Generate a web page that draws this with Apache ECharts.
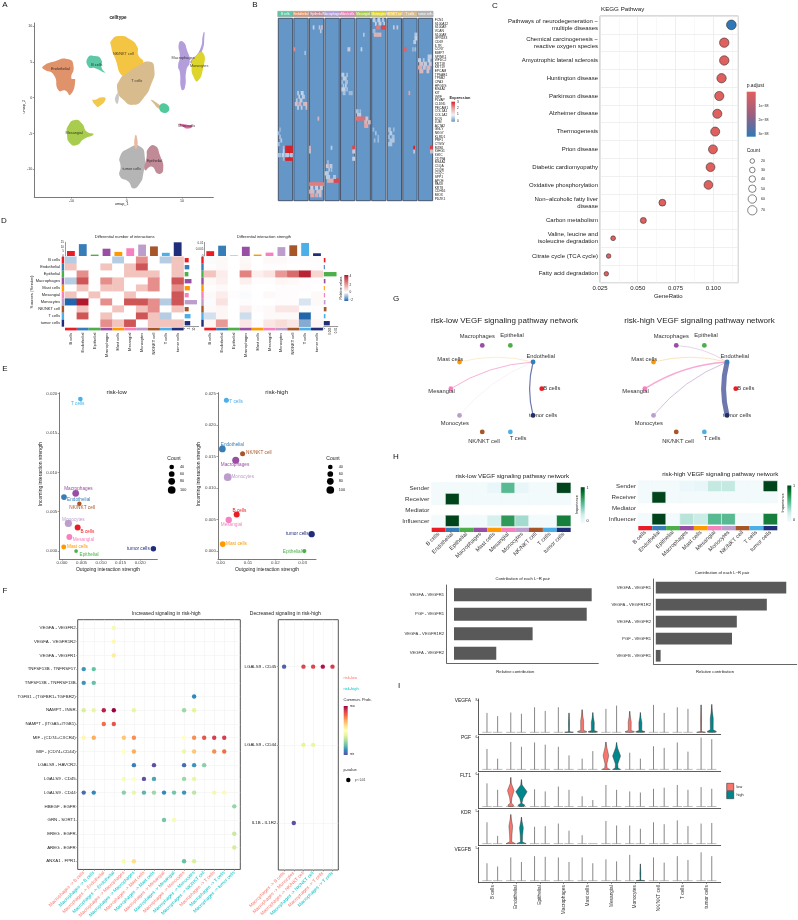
<!DOCTYPE html>
<html><head><meta charset="utf-8">
<style>html,body{margin:0;padding:0;background:#fff}#c{width:798px;height:920px}</style>
<script src="https://cdn.jsdelivr.net/npm/echarts@6/dist/echarts.min.js"></script>
</head><body><div id="c"></div>
<script>
// ---------- shared categories ----------
const cellTypes = ['B cells','Endothelial','Epithelial','Macrophages','Mast cells','Mesangial','Monocytes','NK/NKT cell','T cells','tumor cells'];
const cellColors = ['#EC1C24','#377EB8','#4DAF4A','#984EA3','#FF9900','#F781BF','#BC9DCC','#A65628','#4DAFE8','#1F2D7A'];

// ---------- A: UMAP cluster outlines, in umap units ----------
const umapOutlines = [
  ['#F4C542',[[-2.7,8.05],[-1.2,8.6],[0.6,8.15],[1.9,7.1],[2.1,5.95],[3,4.8],[1.2,2.9],[-0.6,2.9],[-2.1,5.5],[-2.8,7.1]]],
  ['#D9BC8E',[[-0.3,3.2],[1.8,4.3],[4.2,5],[5,3.9],[4.5,2],[3,-0.1],[1.2,-1],[-0.6,-0.3],[-1.7,1.1],[-1.1,2.7]]],
  ['#E0926A',[[-15.2,4.3],[-13.3,5],[-10.5,5.35],[-9.6,4.3],[-10,2.7],[-9.3,2.5],[-10.2,0.4],[-11.1,1],[-12.3,1],[-13.2,3.2],[-15,3.95]]],
  ['#5CC8A5',[[-7,5.6],[-5.7,5.8],[-4.6,5.3],[-4.5,4.1],[-3.9,3.5],[-5.7,4.1],[-6.9,4.3]]],
  ['#F2C94C',[[-5.7,-0.3],[-4.5,0.05],[-3.8,-0.2],[-5.1,-1.25],[-5.7,-1],[-6.2,-0.3]]],
  ['#A8CC4E',[[-10.5,-3.8],[-9.3,-3.1],[-8.1,-3.6],[-7.2,-4.75],[-6,-5.1],[-7.8,-5.8],[-9,-6.6],[-10.2,-6.4],[-10.8,-5]]],
  ['#B39DDB',[[9.45,7.6],[10.2,7.8],[10.9,6.65],[11.4,5],[10.8,3.85],[10.5,1.3],[9.9,1.15],[9.6,3.6],[9.3,4.3],[9.6,5.7]]],
  ['#B39DDB',[[11.5,5],[13.2,6.6],[13.9,9.1],[14.1,9],[13.5,6.2],[12,4.8]]],
  ['#DDD52B',[[12.35,5.7],[13.85,6.2],[13.75,3.85],[12.8,2.3],[12.2,2.7],[11.75,4.3]]],
  ['#D9BC8E',[[4.4,-0.3],[5.2,-0.6],[6.2,-1.3],[5.8,-1.5],[4.9,-0.8]]],
  ['#52C99B',[[5.9,-1.25],[6.9,-0.8],[7.7,-1.7],[6.6,-2.1]]],
  ['#E060A0',[[9.3,-3.65],[11.1,-3.8],[11.9,-3.95],[11.1,-4.3],[9.9,-3.9]]],
  ['#B5B5B5',[[-1.2,-8.2],[0.3,-7.1],[2.4,-6.8],[3.3,-8.45],[3,-10.6],[2.4,-11.95],[1.2,-12.65],[0.3,-11.7],[-1.2,-11],[-1.1,-9.6]]],
  ['#C08A96',[[3.9,-7.1],[5.1,-6.7],[6,-8],[6.6,-10.1],[5.7,-10.6],[4.5,-9.6],[3.3,-10.1],[3.6,-8.3]]],
  ['#E8B9A0',[[1.5,-5.3],[1.8,-5.3],[1.9,-7],[1.5,-7]]],
  ['#C9C9C9',[[-2,0.2],[-1.5,0.6],[-1.6,-0.8],[-2,-0.6]]]
];
const umapLabels = [['Endothelial',-12,3.95],['B cells',-5.4,4.55],['NK/NKT cell',-0.6,6.05],['T cells',1.8,2.3],['Macrophages',10.2,5.5],['Monocytes',13.1,4.45],['Mesangial',-9.5,-4.85],['Mast cells',10.85,-3.95],['Epithelial',5.05,-8.8],['tumor cells',0.9,-9.95]];

// ---------- B: marker gene heatmap ----------
const markerGenes = ['FCN1','S100A12','S100A9','VCAN','S100A8','GPR183','CD69','IL7R','CCR7','MMP7','SPINK1','WFDC2','KRT18','KRT19','EPCAM','TPSAB1','TPSB2','CPA3','HPGDS','MS4A2','KIT','VWF','PLVAP','CLDN5','PECAM1','COL1A1','COL1A2','DCN','LUM','ACTA2','GNLY','NKG7','KLRD1','PRF1','CTSW','MZB1','IGHG1','IGKC','CD79A','MS4A1','C1QA','C1QB','C1QC','SPP1','APOE','PAX8','KRT8','CDH16','MIOX','PDZK1'];
const headerColors = ['#5CC8A5','#E0926A','#C08A96','#B39DDB','#E884B8','#A8CC4E','#DDD52B','#F2C94C','#D9BC8E','#B5B5B5'];
const headerNames = ['B cells','Endothelial','Epithelial','Macrophages','Mast cells','Mesangial','Monocytes','NK/NKT cell','T cells','tumor cells'];
// expression spans per cluster: first column, last column, gene row, value
const exprSpans = [
  [[6,11,35,3],[6,11,36,3],[6,11,38,3],[0,1,37,0.7],[3,4,37,1],[6,8,37,0.9],[10,11,37,0.8],[1,1,32,0.7],[2,2,33,0.9],[0,0,31,0.5],[1,1,30,0.5],[4,4,35,1.9],[4,4,38,2],[4,4,36,1.1],[0,0,34,0.6]],
  [[3,3,20,0.9],[6,7,20,1],[4,4,21,1.2],[7,8,21,0.9],[2,2,22,0.8],[5,6,22,0.9],[1,2,23,1.4],[4,5,23,1.7],[8,10,23,1.5],[3,3,24,1],[6,6,24,1.2],[10,10,24,1.4],[0,0,8,2.2],[9,9,9,0.7]],
  [[0,11,45,2.3],[1,2,46,1.1],[5,6,46,1],[9,10,46,1.2],[0,3,47,1.5],[6,9,47,1.4],[1,3,48,2],[5,6,48,1.9],[8,9,48,1.5],[7,7,27,1.6],[3,3,2,1],[8,8,2,1.4],[10,10,2,1.6],[9,9,3,0.8],[0,0,35,1.6],[0,0,36,1.2]],
  [[7,11,44,2.7],[2,6,44,1.8],[1,3,43,0.9],[7,8,43,0.8],[1,2,40,1.3],[4,5,40,1.2],[3,3,41,0.8],[5,5,41,0.7],[0,2,42,0.9],[2,2,39,0.6],[5,5,35,0.9]],
  [[1,2,15,0.9],[5,5,15,0.7],[2,4,16,0.9],[1,1,17,0.6],[4,5,17,0.7],[2,2,18,0.8],[4,4,18,0.9],[1,3,19,1],[5,5,19,0.7],[2,3,20,0.7],[7,9,20,0.6],[10,11,35,2.7],[10,11,36,1.2],[10,11,38,1.1],[6,7,8,1.2]],
  [[0,1,25,0.7],[3,3,25,0.6],[1,3,26,0.9],[0,6,27,2.4],[7,8,28,1.7],[10,11,28,1.5],[7,9,29,2],[8,9,27,1.4],[4,4,8,1],[6,6,4,0.8]],
  [[1,2,0,0.9],[5,6,0,1],[9,9,0,0.9],[3,3,1,1],[6,7,1,1.1],[10,10,1,0.9],[4,6,2,2.3],[8,11,2,2.7],[2,7,4,1.7],[1,2,3,0.6],[1,1,30,0.6],[3,3,31,0.7],[5,5,32,0.5],[2,2,33,0.6],[5,5,33,0.6]],
  [[1,2,30,0.7],[5,5,30,0.6],[2,3,31,0.9],[1,1,32,0.7],[4,5,32,0.7],[2,5,33,0.8],[1,3,34,0.8],[5,5,2,1.2],[8,8,2,1.3]],
  [[1,2,8,2.5],[10,11,4,0.8],[10,11,5,1],[9,10,6,0.9],[5,5,20,2],[9,9,35,3],[9,9,36,1.2],[8,8,8,0.6],[10,10,8,0.7]],
  [[0,1,11,1],[4,4,11,0.8],[8,9,11,1],[1,3,12,1.4],[5,6,12,1.1],[9,10,12,1.3],[0,2,13,1.8],[4,5,13,1.3],[7,9,13,1.6],[1,3,14,1.6],[7,8,14,1.4],[8,10,10,0.9],[10,11,35,2.8],[10,11,36,1.4]]
];

// ---------- C: KEGG enrichment ----------
const keggTerms = ['Pathways of neurodegeneration −\nmultiple diseases','Chemical carcinogenesis −\nreactive oxygen species','Amyotrophic lateral sclerosis','Huntington disease','Parkinson disease','Alzheimer disease','Thermogenesis','Prion disease','Diabetic cardiomyopathy','Oxidative phosphorylation','Non−alcoholic fatty liver\ndisease','Carbon metabolism','Valine, leucine and\nisoleucine degradation','Citrate cycle (TCA cycle)','Fatty acid degradation'];
const keggRatio = [0.112,0.1073,0.1073,0.1055,0.104,0.1027,0.1013,0.0998,0.0982,0.0968,0.0663,0.0537,0.0337,0.0307,0.0292];
const keggCount = [74,71,71,70,69,68,67,66,65,64,44,35,22,20,19];
const keggPadj = [3e-38,1e-38,1e-38,1e-38,1e-38,1e-38,1e-38,1e-38,1e-38,1e-38,1e-38,1e-38,1e-38,1e-38,1e-38];

// ---------- D: differential interaction heatmaps ----------
const diffCount = [
  [-1,0,0,0,-1,0,2,0,-1,1],[1,0,0,1,0,1,3,0,0,1],[0,2,0,0,0,1,1,1,0,1],[-1,3,0,2,1,0,0,2,0,3],[0,1,0,1,1,0,1,2,0,2],
  [1,0,1,0,0,1,0,0,0,3],[-3,4,0,2,0,3,3,2,-1,3],[0,1,0,0,1,0,1,2,0,1],[0,3,0,1,0,0,3,1,-1,0],[0,0,0,2,1,3,0,1,1,1]];
const diffStrength = [
  [-0.05,0.1,0,0.1,0,0.1,0.1,0.05,0.05,0.05],[0.05,0.1,0,0.15,0,0.05,0.05,0,0,0.05],[1,0.3,0,2.2,0.25,0.45,1.8,2.6,3.8,0.7],[0.1,0.25,0,0.25,0.05,0.05,0.15,0.1,0.05,0.05],[0.05,0.1,0,0.05,0,0,0.05,0.05,0.05,0],
  [0.1,0.3,0.05,-0.05,0,0.1,0.05,0.05,0,0.1],[-0.05,0.5,0,0.05,0,0,0.05,0.05,-0.35,0.1],[0.1,0.15,0,0.3,0.05,0.1,0.4,0.4,0.05,0.05],[-0.4,0.15,0,-0.45,0,0.1,0.1,0.1,-2,0.05],[0.15,1.8,0,0.4,0.05,0.4,0.6,0.4,-1.1,0.15]];
const countTop = [5.5,13,1.5,8,4.5,8.5,12.5,10.5,3.5,15];
const countSide = [4,4.6,3.7,6.8,5.2,4,12.3,4,5.8,5.5];
const strengthTop = [0.0037,0.0079,0.0003,0.0071,0.0011,0.0026,0.0068,0.0082,0.01,0.0021];
const strengthSide = [0.0013,0.0008,0.01,0.0013,0.0008,0.001,0.0013,0.0021,0.0013,0.0047];

// ---------- E: outgoing / incoming strength ----------
const lowOutgoing = [0.004,0.0005,0.0036,0.0035,0.00043,0.00188,0.00162,0.00444,0.0047,0.0234];
const lowIncoming = [0.003,0.00686,0,0.00733,0.00051,0.00178,0.00352,0.00602,0.0193,0.0003];
const lowCount = [65,60,20,80,45,65,90,35,40,55];
const highOutgoing = [0.00585,0.0006,0.0306,0.0055,0.00073,0.00293,0.00256,0.008,0.00207,0.0333];
const highIncoming = [0.00578,0.01618,0,0.01439,0.0011,0.00494,0.01171,0.01544,0.0239,0.00268];
const highCount = [66,80,32,86,60,72,100,46,46,72];
const lowNudge = [[9.7,4.3],[14.7,2.3],[13,4],[2.7,-4.3],[13.7,0],[14,2.3],[5,-4],[2.7,4.3],[-2.7,4.7],[-15,0.3]];
const highNudge = [[2.7,-4],[10,-4.3],[-12,1],[-0.7,4.7],[13.7,0],[2.7,4.7],[15,0],[16.3,-1],[9.7,1.3],[-14.3,0]];

// ---------- F: ligand-receptor bubble plot ----------
const incPairs = ['VEGFA - VEGFR2','VEGFA - VEGFR1R2','VEGFA - VEGFR1','TNFSF13B - TNFRSF17','TNFSF13B - TNFRSF13B','TGFB1 - (TGFBR1+TGFBR2)','NAMPT - INSR','NAMPT - (ITGA5+ITGB1)','MIF - (CD74+CXCR4)','MIF - (CD74+CD44)','LGALS9 - HAVCR2','LGALS9 - CD45','LGALS9 - CD44','HBEGF - EGFR','GRN - SORT1','EREG - EGFR','AREG - EGFR','ANXA1 - FPR1'];
const incTargets = ['B cells','B cells','Endothelial','Endothelial','Macrophages','Macrophages','Mast cells','Mast cells','Mesangial','Mesangial','Monocytes','Monocytes','NK/NKT cell','T cells','T cells','tumor cells'];
const incGroup = [0,1,0,1,0,1,0,1,0,1,0,1,1,0,1,1];
// column, row, communication probability on a 0-1 scale
const incProb = [[3,0,0.46],[3,1,0.52],[3,2,0.56],[0,3,0.12],[1,3,0.2],[0,4,0.12],[1,4,0.2],[11,5,0.1],
  [0,6,0.38],[1,6,0.42],[2,6,0.95],[3,6,1],[5,6,0.42],[10,6,0.28],[11,6,0.4],[2,7,0.8],[3,7,0.85],
  [0,8,0.53],[1,8,0.7],[4,8,0.65],[5,8,0.75],[10,8,0.5],[11,8,0.75],[12,8,0.85],[13,8,0.9],[14,8,0.9],
  [4,9,0.5],[5,9,0.7],[10,9,0.43],[11,9,0.65],[13,9,0.75],[14,9,0.8],
  [5,10,0.08],[7,10,0],[10,10,0.05],[11,10,0.12],[12,10,0.25],
  [4,11,0.47],[5,11,0.5],[6,11,0],[7,11,0.15],[10,11,0.28],[11,11,0.42],
  [0,12,0.05],[1,12,0.1],[4,12,0.25],[5,12,0.42],[6,12,0.18],[7,12,0.28],[8,12,0.1],[9,12,0.22],[10,12,0.12],[11,12,0.33],[13,12,0.45],[14,12,0.52],
  [15,13,0.27],[8,14,0.22],[9,14,0.47],[15,15,0.35],[15,16,0.37],[4,17,0.47],[5,17,0.6],[10,17,0.2],[11,17,0.38]];
const decPairs = ['LGALS9 - CD45','LGALS9 - CD44','IL1B - IL1R2'];
const decTargets = ['B cells','Monocytes','NK/NKT cell','NK/NKT cell','T cells','T cells'];
const decGroup = [0,0,0,1,0,1];
const decProb = [[0,0,0.03],[2,0,0.88],[3,0,0.88],[4,0,0.97],[5,0,0.9],[2,1,0.4],[3,1,0.42],[1,2,0]];

// ---------- G: VEGF networks, edge widths per sender towards Endothelial ----------
const lowEdges = [['Mast cells',0.5],['Mesangial',0.9],['Monocytes',0.4],['tumor cells',1.2]];
const highEdges = [['Macrophages',0.5],['Mast cells',0.7],['Mesangial',1.6],['Monocytes',1],['tumor cells',5]];

// ---------- H: signaling roles and L-R contributions ----------
const roles = ['Sender','Receiver','Mediator','Influencer'];
const lowRoles = [[0,0,0,0,0.08,0.55,0.1,0,0,1],[0,1,0,0,0,0,0,0,0,0],null,[0,1,0,0,0.2,0.7,0.35,0,0,0.8]];
const highRoles = [[0,0,0,0.07,0.1,0.27,0.27,0,0,1],[0,1,0,0,0,0,0,0,0,0],null,[0,1,0,0.3,0.25,0.55,0.55,0,0,0.8]];
const lowPairs = ['VEGFA - VEGFR1','PGF - VEGFR1','VEGFA - VEGFR1R2','VEGFA - VEGFR2'];
const lowContribution = [1,0.964,0.571,0.307];
const highPairs = ['VEGFA - VEGFR1','VEGFA - VEGFR1R2','VEGFA - VEGFR2','PGF - VEGFR1','VEGFB - VEGFR1'];
const highContribution = [1,0.851,0.621,0.584,0.037];

// ---------- I: violin plots, maximum expression per cell type ----------
const violinGenes = ['VEGFA','PGF','FLT1','KDR','VEGFB'];
const violinTicks = [8,6,6,5,5];
const violinLow = [
  [4.8,4.9,6.2,6.2,5.6,5.8,5.2,6.8,6.2,6.8],[3.8,5.1,5,4.2,2,5.1,3.1,4.3,5,5.9],[4.3,5.4,3.2,3.7,1.9,4,2.8,3.3,4,3.6],
  [3.3,4.5,2.6,3.1,1.3,3.5,2.8,3.3,3.6,3.1],[2.7,3.6,3.8,3.6,3.6,3.3,4,3.6,3.8,4.4]];
const violinHigh = [
  [4,4.6,5.3,4.8,4.9,6.6,4.9,4.8,5.8,6.9],[2,4.2,4.6,2.6,3.4,5,2,4,3.3,5.6],[3.1,5,2.8,3.1,1.2,3.1,2.6,3.5,3.1,3.3],
  [1.2,4.1,2.7,2,0,2.8,2.3,3,2.7,3.2],[2.2,2.9,3.7,2.9,2.7,3,2.6,2.8,3.2,3.8]];
// violin outlines as [fraction of height, half width]; keyed gene:cell:group
const violinProfiles = {
  'foot':[[0,0.6],[0.03,1],[0.09,0.3],[0.5,0.32],[0.75,0.12],[1,0]],
  'pgf':[[0,0.8],[0.05,0.25],[0.2,0.2],[0.5,0.6],[0.8,0.2],[1,0]],
  'pgf2':[[0,0.8],[0.05,0.3],[0.2,0.25],[0.5,0.85],[0.8,0.2],[1,0]],
  'flt':[[0,0.5],[0.05,0.6],[0.12,0.1],[0.3,0.25],[0.55,0.7],[0.8,0.1],[1,0]],
  'flt2':[[0,0.5],[0.05,0.75],[0.12,0.1],[0.3,0.35],[0.55,1.2],[0.8,0.15],[1,0]],
  'kdr':[[0,1],[0.06,0.2],[0.3,0.25],[0.6,0.4],[0.85,0.12],[1,0]],
  'thin':[[0,0.9],[0.03,0.06],[0.45,0.1],[1,0]]
};
const violinShapeAt = {'0:3:1':'thin','0:4:0':'foot','0:4:1':'foot','0:6:0':'foot','0:6:1':'foot','0:9:0':'thin','0:9:1':'foot',
  '1:5:0':'pgf','1:5:1':'pgf2','2:1:0':'flt','2:1:1':'flt2','3:1:0':'kdr','3:1:1':'kdr','4:6:1':'thin'};

// ---------- helpers ----------
const FONT = '"Liberation Sans", Arial, sans-serif';
const grids = [], xAxes = [], yAxes = [], series = [], gfx = [];
const R = Math.PI / 2;
function addGrid(l, t, w, h, x, y, extra) {
  const i = grids.length;
  grids.push(Object.assign({left: l, top: t, width: w, height: h, containLabel: false}, extra || {}));
  xAxes.push(Object.assign({gridIndex: i}, x));
  yAxes.push(Object.assign({gridIndex: i}, y));
  return i;
}
const on = i => ({xAxisIndex: i, yAxisIndex: i});
const hiddenV = (min, max, extra) => Object.assign({type: 'value', min, max, show: false}, extra || {});
const hiddenC = (data, extra) => Object.assign({type: 'category', data, show: false}, extra || {});
function text(x, y, s, size, o) {
  o = o || {};
  gfx.push({type: 'text', x, y, rotation: o.rot || 0, silent: true, z: 10, style: {text: s, fontSize: size, fontFamily: FONT,
    fontWeight: o.bold ? 'bold' : 'normal', fill: o.fill || '#222', align: o.align || 'center', verticalAlign: o.va || 'middle'}});
}
function rect(x, y, w, h, fill, stroke) {
  gfx.push({type: 'rect', silent: true, z: 9, shape: {x, y, width: w, height: h}, style: {fill, stroke: stroke || null, lineWidth: stroke ? 0.6 : 0}});
}
function dot(x, y, d, fill, stroke) {
  gfx.push({type: 'circle', silent: true, z: 9, shape: {cx: x, cy: y, r: d / 2}, style: {fill, stroke: stroke || null, lineWidth: stroke ? 0.6 : 0}});
}
function colorbar(x, y, w, h, stops) {
  const n = stops.length - 1;
  gfx.push({type: 'rect', silent: true, z: 9, shape: {x, y, width: w, height: h}, style: {
    fill: new echarts.graphic.LinearGradient(0, 0, 0, 1, stops.map((c, i) => ({offset: i / n, color: c})))}});
}
function rgb(h) { return [1, 3, 5].map(i => parseInt(h.substr(i, 2), 16)); }
function ramp(stops, t) {
  t = Math.max(0, Math.min(1, t)) * (stops.length - 1);
  const i = Math.min(Math.floor(t), stops.length - 2), f = t - i, a = rgb(stops[i]), b = rgb(stops[i + 1]);
  return 'rgb(' + a.map((v, k) => Math.round(v + (b[k] - v) * f)).join(',') + ')';
}
function heat(i, cells, colorOf, extra) {
  series.push(Object.assign({type: 'heatmap', ...on(i), progressive: 0, emphasis: {disabled: true},
    data: cells.map(d => ({value: d, itemStyle: {color: colorOf(d[2])}}))}, extra || {}));
}
function strip(l, t, w, h, vertical) {
  const i = vertical
    ? addGrid(l, t, w, h, hiddenV(0, 1), hiddenC(cellTypes, {inverse: true}))
    : addGrid(l, t, w, h, hiddenC(cellTypes), hiddenV(0, 1));
  series.push({type: 'bar', ...on(i), barWidth: '100%', silent: true, data: cellTypes.map((_, k) => ({value: 1, itemStyle: {color: cellColors[k]}}))});
}
const axisGray = {lineStyle: {color: '#7A7A7A', width: 1}, onZero: false};
const tickGray = (vals, len) => ({length: len || 1.6, lineStyle: {color: '#666', width: 0.6}, customValues: vals});

// ---------- panel letters ----------
[['A',5,5],['B',255,5],['C',495,6],['D',4,221],['E',5,369],['F',5,591],['G',396,299],['H',396,457],['I',399,686]].forEach(p => text(p[1], p[2], p[0], 8, {fill: '#111'}));

// ---------- A ----------
{
  const i = addGrid(34.3, 23, 179, 174,
    {type: 'value', min: -16.7, max: 15.66, splitLine: {show: false}, axisLine: axisGray, axisTick: tickGray([-10, 0, 10]),
      axisLabel: {customValues: [-10, 0, 10], fontSize: 3.6, margin: 2, color: '#333'}},
    {type: 'value', min: -13.85, max: 10.41, splitLine: {show: false}, axisLine: axisGray, axisTick: tickGray([-10, -5, 0, 5, 10]),
      axisLabel: {customValues: [-10, -5, 0, 5, 10], fontSize: 3.6, margin: 2, color: '#333'}});
  umapOutlines.forEach(u => series.push({type: 'custom', ...on(i), silent: true, data: [[u[1][0][0], u[1][0][1]]],
    renderItem: (p, api) => ({type: 'polygon', shape: {points: u[1].map(q => api.coord(q)), smooth: 0.6}, style: {fill: u[0]}})}));
  series.push({type: 'scatter', ...on(i), symbolSize: 0, silent: true, z: 5, data: umapLabels.map(l => ({value: [l[1], l[2]], name: l[0]})),
    label: {show: true, position: 'inside', formatter: '{b}', fontSize: 3.8, color: '#111'}});
  text(118, 18, 'celltype', 4.6, {bold: true});
  text(121.7, 204, 'umap_1', 3.8);
  text(24.3, 106.7, 'umap_2', 3.8, {rot: R});
}

// ---------- B ----------
{
  const blue = '#6496C8', exprStops = [blue, '#C2D3E7', '#E6A3A1', '#D6232A'];
  exprSpans.forEach((spans, p) => {
    const last = p === 9;
    const left = 278.3 + p * 15.56;
    const cells = [];
    spans.forEach(s => { for (let c = s[0]; c <= s[1]; c++) cells.push([c, s[2], s[3]]); });
    const i = addGrid(left, 18.3, 14.3, 182.4,
      hiddenC(Array.from({length: 12}, (_, k) => k)),
      last ? {type: 'category', data: markerGenes, inverse: true, position: 'right', axisLine: {show: false}, axisTick: {show: false},
              axisLabel: {interval: 0, fontSize: 3.3, margin: 2, color: '#222'}}
           : hiddenC(markerGenes, {inverse: true}),
      {show: true, backgroundColor: blue, borderColor: '#47556B', borderWidth: 1});
    heat(i, cells, v => ramp(exprStops, v / 3));
    rect(left - 0.5, 11.3, 15.2, 5.4, headerColors[p], '#999');
    text(left + 7.1, 14, headerNames[p], 3, {fill: '#fff'});
  });
  text(460, 98.3, 'Expression', 3.9, {bold: true});
  colorbar(451.3, 101.7, 3.7, 20, ['#D6232A', '#E6A3A1', '#F2F2F6', blue]);
  [['3', 102.3], ['2', 108.3], ['1', 114.3], ['0', 120.7]].forEach(t => text(457, t[1], t[0], 3.2, {align: 'left'}));
}

// ---------- C ----------
{
  const i = addGrid(600, 16, 138.3, 266.7,
    {type: 'value', min: 0.025, max: 0.1166, interval: 0.025, splitLine: {lineStyle: {color: '#E6E6E6', width: 0.7}},
      minorTick: {show: false, splitNumber: 2}, minorSplitLine: {show: true, lineStyle: {color: '#F1F1F1', width: 0.5}},
      axisLine: {show: false}, axisTick: {length: 1.6, lineStyle: {color: '#333', width: 0.6}},
      axisLabel: {fontSize: 6, margin: 2.5, color: '#222', showMaxLabel: false, formatter: v => v.toFixed(3)}},
    {type: 'category', data: keggTerms, inverse: true, axisLine: {show: false}, splitLine: {show: true, lineStyle: {color: '#E9E9E9', width: 0.7}},
      axisTick: {alignWithLabel: true, length: 1.6, lineStyle: {color: '#333', width: 0.6}},
      axisLabel: {interval: 0, fontSize: 6, margin: 2, color: '#222', lineHeight: 7, align: 'right'}},
    {show: true, borderColor: '#B5B5B5', borderWidth: 1});
  series.push({type: 'scatter', ...on(i), silent: true,
    data: keggTerms.map((t, k) => [keggRatio[k], t, keggCount[k], keggPadj[k]]),
    symbolSize: d => 4.6 + (d[2] - 20) * 0.094,
    itemStyle: {borderColor: '#333', borderWidth: 0.6, opacity: 1, color: p => ramp(['#E0605E', '#2E78B7'], (p.value[3] - 1e-38) / 2e-38)}});
  text(622.7, 9, 'KEGG Pathway', 6.2, {});
  text(668.3, 296.7, 'GeneRatio', 6);
  text(746.7, 86, 'p.adjust', 5, {align: 'left'});
  colorbar(746.7, 91.7, 9, 45, ['#E0605E', '#9C5F80', '#2E78B7']);
  [['1e−38', 105.7], ['2e−38', 120], ['3e−38', 134.3]].forEach(t => text(758.5, t[1], t[0], 3.6, {align: 'left'}));
  text(746.7, 151, 'Count', 5, {align: 'left'});
  [[20, 161, 4.6], [30, 170, 5.6], [40, 179, 6.5], [50, 188.7, 7.4], [60, 199, 8.4], [70, 210.3, 9.3]].forEach(c => {
    dot(752.3, c[1], c[2], '#fff', '#333');
    text(761, c[1], String(c[0]), 3.6, {align: 'left'});
  });
}

// ---------- D ----------
function diffPanel(left, stripLeft, sideLeft, matrix, top, side, topMax, sideMax, negScale, topTicks, sideTicks, rowLabels) {
  const blueStops = ['#FFFFFF', '#2166AC'], redStops = ['#FFFFFF', '#F3C4BE', '#E58E8B', '#CF5657', '#B2182B'];
  const colorOf = v => v < 0 ? ramp(blueStops, -v / negScale) : ramp(redStops, v / 4);
  const cells = [];
  matrix.forEach((row, r) => row.forEach((v, c) => cells.push([c, r, v])));
  const i = addGrid(left, 256.7, 118.6, 70,
    {type: 'category', data: cellTypes, axisLine: {show: false}, axisTick: {show: false},
      axisLabel: {interval: 0, rotate: 90, fontSize: 4, margin: 6, color: '#222'}},
    rowLabels
      ? {type: 'category', data: cellTypes, inverse: true, axisLine: {show: false}, axisTick: {show: false},
         axisLabel: {interval: 0, fontSize: 4, margin: 5, color: '#222'}}
      : hiddenC(cellTypes, {inverse: true}));
  heat(i, cells, colorOf);
  strip(left, 327.7, 118.6, 2.7, false);
  strip(stripLeft, 256.7, 2.4, 70, true);
  const t = addGrid(left, 242.3, 118.6, 13.7, hiddenC(cellTypes),
    {type: 'value', min: 0, max: topMax, splitLine: {show: false}, axisLine: {show: true, lineStyle: {color: '#333', width: 0.5}},
      axisTick: tickGray(topTicks, 1), axisLabel: {customValues: topTicks, fontSize: 3, margin: 1, color: '#333'}});
  series.push({type: 'bar', ...on(t), silent: true, barWidth: '66%', data: top.map((v, k) => ({value: v, itemStyle: {color: cellColors[k]}}))});
  const s = addGrid(sideLeft, 256.7, 14, 70,
    {type: 'value', min: 0, max: sideMax, splitLine: {show: false}, axisLine: {show: true, lineStyle: {color: '#333', width: 0.5}},
      axisTick: tickGray(sideTicks, 1), axisLabel: {customValues: sideTicks, rotate: 90, fontSize: 2.8, margin: 1, color: '#333'}},
    hiddenC(cellTypes, {inverse: true}));
  series.push({type: 'bar', ...on(s), silent: true, barWidth: '62%', data: side.map((v, k) => ({value: v, itemStyle: {color: cellColors[k]}}))});
}
diffPanel(65, 61.7, 184.7, diffCount, countTop, countSide, 15, 14, 3, [0, 5, 10, 15], [0, 5, 10], true);
diffPanel(204.3, 201.3, 323.8, diffStrength, strengthTop, strengthSide, 0.0105, 0.011, 2, [0, 0.005, 0.01], [0, 0.005, 0.01], false);
text(124.7, 237.3, 'Differential number of interactions', 4);
text(264, 237.3, 'Differential interaction strength', 4);
text(32, 292, 'Sources (Sender)', 4.2, {rot: R});
colorbar(344.3, 275, 4, 26, ['#B2182B', '#E58E8B', '#FFFFFF', '#2166AC']);
[['4', 276], ['2', 285], ['0', 292.5], ['−2', 300]].forEach(t => text(349.5, t[1], t[0], 3.2, {align: 'left'}));
text(341.5, 288, 'Relative values', 3.4, {rot: R});

// ---------- E ----------
function rolePanel(l, w, xMin, xMax, yMin, yMax, xTicks, yTicks, xDigits, out, inc, cnt, nudge) {
  const i = addGrid(l, 392.7, w, 166.3,
    {type: 'value', min: xMin, max: xMax, splitLine: {show: false}, axisLine: axisGray, axisTick: tickGray(xTicks),
      axisLabel: {customValues: xTicks, fontSize: 4.4, margin: 2, color: '#444', formatter: v => v.toFixed(xDigits)}},
    {type: 'value', min: yMin, max: yMax, splitLine: {show: false}, axisLine: axisGray, axisTick: tickGray(yTicks),
      axisLabel: {customValues: yTicks, fontSize: 4.4, margin: 2, color: '#444', formatter: v => v.toFixed(3)}});
  series.push({type: 'scatter', ...on(i), silent: true,
    data: cellTypes.map((n, k) => ({value: [out[k], inc[k], cnt[k]], name: n, itemStyle: {color: cellColors[k], opacity: 1},
      label: {show: true, position: 'inside', offset: nudge[k], formatter: '{b}', fontSize: 4.7, color: cellColors[k]}})),
    symbolSize: d => 4.7 + (d[2] - 40) * 0.05});
}
rolePanel(59.3, 98, -0.0007, 0.0244, -0.001, 0.0201, [0, 0.005, 0.01, 0.015, 0.02], [0, 0.005, 0.01, 0.015, 0.02], 3, lowOutgoing, lowIncoming, lowCount, lowNudge);
rolePanel(218, 98, -0.001, 0.0349, -0.00126, 0.0251, [0, 0.01, 0.02, 0.03], [0, 0.005, 0.01, 0.015, 0.02, 0.025], 2, highOutgoing, highIncoming, highCount, highNudge);
text(116.7, 392.5, 'risk-low', 6);
text(276.7, 392.5, 'risk-high', 6);
[[108, 40.3], [267, 199]].forEach(p => {
  text(p[0], 570, 'Outgoing interaction strength', 5);
  text(p[1], 474, 'Incoming interaction strength', 5, {rot: R});
});
[[174, 171.7, 180], [333, 330.3, 338.7]].forEach(p => {
  text(p[0], 458.7, 'Count', 5);
  [[40, 467, 4.7], [60, 474, 5.7], [80, 481.3, 6.7], [100, 490, 7.7]].forEach(c => {
    dot(p[1], c[1], c[2], '#000');
    text(p[2], c[1], String(c[0]), 3.8, {align: 'left'});
  });
});

// ---------- F ----------
const spectral = ['#5E4FA2','#3288BD','#66C2A5','#ABDDA4','#E6F598','#FFFFBF','#FEE08B','#FDAE61','#F46D43','#D53E4F','#9E0142'];
function bubblePanel(l, w, targets, group, pairs, probs) {
  const xv = targets.map((_, k) => k), yv = pairs.map((_, k) => k);
  const i = addGrid(l, 619.7, w, 250.3,
    {type: 'value', min: -0.6, max: targets.length - 0.4, splitLine: {lineStyle: {color: '#EEEEEE', width: 0.5}}, axisLine: {show: false, onZero: false}, axisTick: tickGray(xv, 1.4),
      axisLabel: {customValues: xv, rotate: 45, fontSize: 4.6, margin: 2.5, formatter: v => 'Macrophages -> ' + targets[v],
        color: v => group[+v] ? '#00BFC4' : '#F8766D'}},
    {type: 'value', inverse: true, min: -0.6, max: pairs.length - 0.4, splitLine: {lineStyle: {color: '#EEEEEE', width: 0.5}}, axisLine: {show: false, onZero: false}, axisTick: tickGray(yv, 1.4),
      axisLabel: {customValues: yv, fontSize: 4.4, margin: 2, color: '#222', formatter: v => pairs[v]}},
    {show: true, borderColor: '#555', borderWidth: 1});
  series.push({type: 'scatter', ...on(i), silent: true, symbolSize: 4.4, data: probs,
    itemStyle: {opacity: 1, color: p => ramp(spectral, p.value[2])}});
}
bubblePanel(77.7, 162.6, incTargets, incGroup, incPairs, incProb);
bubblePanel(278.3, 60, decTargets, decGroup, decPairs, decProb);
text(166.3, 613.7, 'Increased signaling in risk-high', 5);
text(285.3, 613.7, 'Decreased signaling in risk-high', 5);
text(343.5, 678, 'risk-low', 4, {fill: '#F8766D', align: 'left'});
text(343.5, 689, 'risk-high', 4, {fill: '#00BFC4', align: 'left'});
text(343.5, 700, 'Commun. Prob.', 4, {align: 'left'});
colorbar(343.7, 706, 4, 49, spectral.slice().reverse());
text(350, 706.5, 'max', 2.6, {align: 'left'});
text(350, 754.5, 'min', 2.6, {align: 'left'});
text(343.5, 770.3, 'p-value', 4, {align: 'left'});
dot(348.3, 780, 4.4, '#000');
text(355, 780, 'p < 0.01', 2.8, {align: 'left'});

// ---------- G ----------
const nodeNudge = [[10,0],[7.7,-6],[1.7,-10],[-5,-9],[-9.3,-3],[-9.3,3],[-4.7,8],[1.7,9.7],[7.7,6.7],[10,0]];
const edgeColors = {'Mast cells':'#FBD9A0','Mesangial':'#F9A8D4','Monocytes':'#D5C2E0','tumor cells':'#6D79AE','Macrophages':'#CDAAD3'};
function network(cx, edges, fadedMono) {
  const i = addGrid(cx - 50, 338.7, 100, 100, hiddenV(-1.1, 1.1), hiddenV(-1.1, 1.1));
  series.push({type: 'graph', coordinateSystem: 'cartesian2d', ...on(i), silent: true, edgeSymbol: ['none', 'none'], symbolSize: 4.8,
    data: cellTypes.map((n, k) => {
      const a = k * Math.PI / 5;
      return {name: n, value: [Math.cos(a), Math.sin(a)], itemStyle: {color: cellColors[k]},
        label: {show: true, position: 'inside', offset: nodeNudge[k], formatter: '{b}', fontSize: 5.8, color: '#333'}};
    }),
    links: edges.map(e => ({source: e[0], target: 'Endothelial',
      lineStyle: {width: e[1], curveness: 0.13, opacity: 1, color: (fadedMono && e[0] === 'Monocytes') ? '#E9E0EE' : edgeColors[e[0]]}}))});
}
network(496.3, lowEdges, true);
network(690.3, highEdges, false);
text(504.5, 320.3, 'risk-low VEGF signaling pathway network', 8);
text(699.5, 320.3, 'risk-high VEGF signaling pathway network', 8);

// ---------- H ----------
const buGn = ['#F2FAFB','#E5F5F9','#CCECE6','#99D8C9','#66C2A4','#41AE76','#238B45','#006D2C','#00441B'];
function rolesPanel(l, t, matrix, title, titleX, titleY, barX, labelX, nameX) {
  const cells = [];
  matrix.forEach((row, r) => { if (row) row.forEach((v, c) => cells.push([c, r, v])); });
  const i = addGrid(l, t, 139, 43.6,
    {type: 'category', data: cellTypes, axisLine: {show: false}, axisTick: {show: false},
      axisLabel: {interval: 0, rotate: 45, fontSize: 5.6, margin: 7, color: '#333'}},
    {type: 'category', data: roles, inverse: true, axisLine: {show: false}, axisTick: {show: false},
      axisLabel: {interval: 0, fontSize: 6.2, margin: 2.3, color: '#333'}});
  heat(i, cells, v => ramp(buGn, v), {itemStyle: {borderColor: '#F2FAFB', borderWidth: 0.6}});
  strip(l, t + 45, 139, 4.3, false);
  text(titleX, titleY, title, 6.2);
  colorbar(barX, t + 4.5, 4, 36.3, buGn.slice().reverse());
  text(labelX, t + 5, '1', 3.8, {align: 'left'});
  text(labelX, t + 38.5, '0', 3.8, {align: 'left'});
  text(nameX, t + 22, 'Importance', 3.8, {rot: R});
}
rolesPanel(431.7, 482.7, lowRoles, 'risk-low VEGF signaling pathway network', 512.3, 476, 580.7, 586.5, 576.5);
rolesPanel(638.3, 481, highRoles, 'risk-high VEGF signaling pathway network', 720.3, 474.7, 787.3, 793, 782.5);
function contribution(l, t, w, h, pairs, vals, xMin, xMax, barW) {
  const i = addGrid(l, t, w, h,
    {type: 'value', min: xMin, max: xMax, splitLine: {show: false}, axisTick: {show: false}, axisLabel: {show: false},
      axisLine: {show: true, onZero: false, lineStyle: {color: '#666', width: 1}}},
    {type: 'category', data: pairs, inverse: true, axisTick: {show: false},
      axisLine: {show: true, onZero: false, lineStyle: {color: '#666', width: 1}},
      axisLabel: {interval: 0, fontSize: 4.2, margin: 2.5, color: '#333'}});
  series.push({type: 'bar', ...on(i), silent: true, barWidth: barW, data: vals, itemStyle: {color: '#595959'}});
}
contribution(446.7, 585, 151.6, 78, lowPairs, lowContribution, -0.053, 1.048, 13);
contribution(653.7, 579, 143, 85.3, highPairs, highContribution, -0.016, 1.08, 11.7);
text(522.7, 578.7, 'Contribution of each L−R pair', 4.2);
text(722, 572.7, 'Contribution of each L−R pair', 4.2);
text(515.3, 671.7, 'Relative contribution', 4.2);
text(715, 671.7, 'Relative contribution', 4.2);

// ---------- I ----------
const violinFill = ['#F8766D', '#00868B'];
violinGenes.forEach((gene, g) => {
  const top = 699 + g * 37.1, T = violinTicks[g], last = g === violinGenes.length - 1;
  const cellIdx = cellTypes.map((_, k) => k);
  const i = addGrid(478.7, top, 242, 35.3,
    {type: 'value', min: -0.572, max: 9.6, splitLine: {show: false},
      axisLine: {show: true, onZero: false, lineStyle: {color: '#333', width: 0.8}},
      axisTick: last ? {length: 1.4, lineStyle: {color: '#333', width: 0.5}, customValues: cellIdx} : {show: false},
      axisLabel: last ? {customValues: cellIdx, rotate: 90, fontSize: 4.8, margin: 2.5, color: '#333', formatter: v => cellTypes[v]} : {show: false}},
    {type: 'value', min: -6 / 97 * T, max: 100 / 97 * T, splitLine: {show: false},
      axisLine: {show: true, onZero: false, lineStyle: {color: '#333', width: 0.8}},
      axisTick: {length: 1.4, lineStyle: {color: '#333', width: 0.6}, customValues: [T]},
      axisLabel: {customValues: [T], fontSize: 3.2, margin: 1.5, color: '#333'}});
  const items = [];
  cellTypes.forEach((_, c) => { items.push([c, 0, violinLow[g][c]]); items.push([c, 1, violinHigh[g][c]]); });
  series.push({type: 'custom', ...on(i), silent: true, data: items, encode: {x: 0, y: 2},
    renderItem: (p, api) => {
      const c = api.value(0), side = api.value(1), v = api.value(2);
      const pos = c + (side ? 0.224 : -0.224);
      const base = api.coord([pos, 0]), tip = api.coord([pos, v]);
      const kids = [{type: 'line', shape: {x1: base[0] - 4.7, y1: base[1], x2: base[0] + 4.7, y2: base[1]}, style: {stroke: '#B5B5B5', lineWidth: 0.9}}];
      const shape = violinShapeAt[g + ':' + c + ':' + side];
      if (v > 0) kids.push({type: 'line', shape: {x1: base[0], y1: base[1], x2: tip[0], y2: tip[1]}, style: {stroke: '#555', lineWidth: 0.7}});
      if (shape) {
        const prof = violinProfiles[shape], h = base[1] - tip[1];
        const right = prof.map(q => [base[0] + q[1] * 4.7, base[1] - q[0] * h]);
        const left = prof.slice().reverse().map(q => [base[0] - q[1] * 4.7, base[1] - q[0] * h]);
        kids.push({type: 'polygon', shape: {points: right.concat(left)}, style: {fill: violinFill[side], stroke: '#333', lineWidth: 0.4}});
      }
      return {type: 'group', children: kids};
    }});
  text(471, top + 2, gene, 4.9, {align: 'right'});
});
rect(726.7, 783.3, 7, 7.4, violinFill[0], '#333');
rect(726.7, 791.3, 7, 7.4, violinFill[1], '#333');
text(736.5, 787, 'low', 3.8, {align: 'left'});
text(736.5, 795, 'high', 3.8, {align: 'left'});

// ---------- render ----------
const chart = echarts.init(document.getElementById('c'), null, {renderer: 'canvas', width: 798, height: 920});
chart.setOption({animation: false, backgroundColor: '#fff', textStyle: {fontFamily: FONT},
  grid: grids, xAxis: xAxes, yAxis: yAxes, series, graphic: {elements: gfx}});
</script></body></html>
